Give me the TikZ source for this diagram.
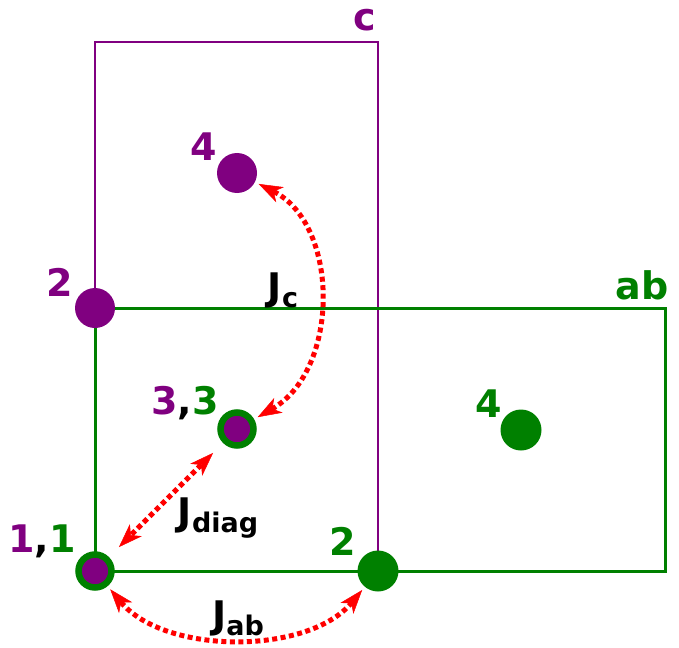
\documentclass[tikz,border=0pt]{standalone}
\usepackage{fontspec}
\setmainfont{DejaVu Sans}
\usetikzlibrary{arrows.meta}
\definecolor{pur}{HTML}{800080}
\definecolor{grn}{HTML}{008000}
\definecolor{rd}{HTML}{FF0000}
\begin{document}
\begin{tikzpicture}[x=1pt,y=-1pt,
  lbl/.style={font=\fontsize{38}{38}\selectfont\bfseries, inner sep=0pt},
  dotp/.style={circle, fill=pur, minimum size=40pt, inner sep=0pt},
  dotg/.style={circle, fill=grn, minimum size=41pt, inner sep=0pt},
  ring/.style={circle, fill=pur, draw=grn, line width=6.5pt, minimum size=33pt, inner sep=0pt},
  jarrow/.style={draw=rd, line width=5pt, dash pattern=on 5pt off 3.5pt,
     {Stealth[length=24pt,width=17pt,inset=7pt,fill=rd,line width=0.5pt]}-{Stealth[length=24pt,width=17pt,inset=7pt,fill=rd,line width=0.5pt]}}
]
\useasboundingbox (0,0) rectangle (679,647);
% rectangles
\draw[pur, line width=2.5pt] (95,308) -- (95,42) -- (378,42) -- (378,571);
\draw[grn, line width=3pt] (95,308) rectangle (665,571);
% dots
\node[dotp] (p4) at (237,173) {};
\node[dotp] (p2) at (95,308) {};
\node[ring] (p33) at (237,429) {};
\node[dotg] (g4) at (521,430) {};
\node[ring] (p11) at (95,571) {};
\node[dotg] (g2) at (378,571) {};
% labels
\node[lbl, text=pur] (lc) at (365,20) {c};
\node[lbl, text=grn] (lab) at (642,285) {ab};
\node[lbl, text=pur] (l4) at (204,147) {4};
\node[lbl, text=pur] (l2) at (60,282) {2};
\node[lbl] (l33) at (185,403) {\textcolor{pur}{3},\textcolor{grn}{3}};
\node[lbl, text=grn] (lg4) at (489,404) {4};
\node[lbl] (l11) at (42,541) {\textcolor{pur}{1},\textcolor{grn}{1}};
\node[lbl, text=grn] (lg2) at (343,541) {2};
% arrows
\draw[jarrow, shorten <=4pt, shorten >=4pt] (p4) .. controls (340,225) and (340,370) .. (p33);
\draw[jarrow, shorten <=14pt, shorten >=14pt] (p33) -- (p11);
\draw[jarrow, shorten <=4pt, shorten >=4pt] (p11) .. controls (165,655) and (308,655) .. (g2);
% J labels
\node[lbl, anchor=base] (jc) at (283,300) {J\raisebox{-7pt}{\fontsize{27}{27}\selectfont c}};
\node[lbl, anchor=base] (jd) at (218,525) {J\raisebox{-7pt}{\fontsize{27}{27}\selectfont diag}};
\node[lbl, anchor=base] (jab) at (238,628) {J\raisebox{-7pt}{\fontsize{27}{27}\selectfont ab}};
\end{tikzpicture}
\end{document}
